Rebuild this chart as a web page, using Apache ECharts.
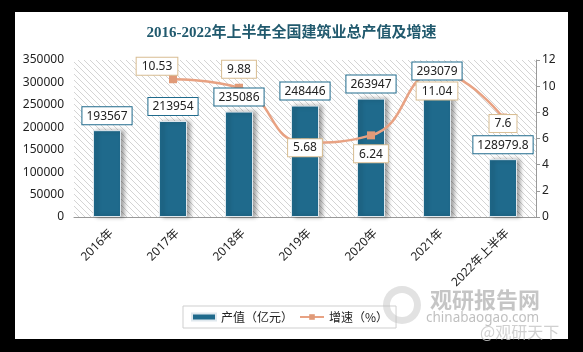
<!DOCTYPE html>
<html>
<head>
<meta charset="utf-8">
<script src="https://cdn.jsdelivr.net/npm/echarts@6/dist/echarts.min.js"></script>
<style>
  html, body { margin: 0; padding: 0; background: #000; }
  #chart { width: 583px; height: 352px; }
</style>
</head>
<body>
<div id="chart"></div>
<script>
const categories = ["2016年", "2017年", "2018年", "2019年", "2020年", "2021年", "2022年上半年"];
const outputValues = [193567, 213954, 235086, 248446, 263947, 293079, 128979.8];
const growthRates = [null, 10.53, 9.88, 5.68, 6.24, 11.04, 7.6];
// 每个增速标签的位置（按图上避让方式摆放）
const growthLabelPos = [null, "inside", "top", "inside", "bottom", "bottom", "inside"];
const growthLabelOffset = [null, [-16, -13], [0, 0], [0, 5], [0, 0], [0, 0], [0, 6]];

const barColor = "#1f6a8c";
const lineColor = "#e8a283";

// 斜线底纹
const makeHatch = () => {
  const c = document.createElement("canvas");
  c.width = 6;
  c.height = 6;
  const ctx = c.getContext("2d");
  ctx.fillStyle = "#ffffff";
  ctx.fillRect(0, 0, 6, 6);
  ctx.strokeStyle = "#d4d4d4";
  ctx.lineWidth = 1;
  ctx.beginPath();
  ctx.moveTo(-1, -1);
  ctx.lineTo(7, 7);
  ctx.moveTo(-1, 5);
  ctx.lineTo(1, 7);
  ctx.moveTo(5, -1);
  ctx.lineTo(7, 1);
  ctx.stroke();
  return c;
};

const chart = echarts.init(document.getElementById("chart"));
const fontNum = "'Noto Sans', 'Noto Sans CJK SC', sans-serif";

const barLabel = {
  show: true,
  position: "top",
  distance: 6,
  fontSize: 12,
  color: "#222",
  backgroundColor: "#fff",
  borderColor: barColor,
  borderWidth: 1,
  padding: [3, 4, 2, 4],
};

const option = {
  backgroundColor: "#000",
  animation: false,
  textStyle: { fontFamily: fontNum },
  graphic: [
    {
      type: "rect",
      shape: { x: 15, y: 12, width: 553, height: 327 },
      style: { fill: "#fff" },
      z: -10,
    },
    {
      type: "ring",
      shape: { cx: 402, cy: 305, r: 19, r0: 12 },
      style: { fill: "rgba(190,190,190,0.45)" },
      z: 10,
    },
    {
      type: "text",
      left: 430,
      top: 289,
      style: { text: "观研报告网", fontSize: 22, fontWeight: "bold", fill: "rgba(150,150,150,0.55)", fontFamily: "'Noto Sans CJK SC'" },
      z: 10,
    },
    {
      type: "text",
      left: 426,
      top: 311,
      style: { text: "chinabaogao.com", fontSize: 13.5, fill: "rgba(150,150,150,0.6)", fontFamily: fontNum },
      z: 10,
    },
    {
      type: "text",
      left: 480,
      top: 324,
      style: { text: "@观研天下", fontSize: 16, fill: "rgba(200,200,200,0.85)", fontFamily: "'Noto Sans CJK SC'" },
      z: 10,
    },
  ],
  title: {
    text: "2016-2022年上半年全国建筑业总产值及增速",
    left: "center",
    top: 21,
    textStyle: {
      fontSize: 15,
      fontWeight: "bold",
      color: "#215a6e",
      fontFamily: "'Liberation Serif', 'Noto Sans CJK SC', serif",
    },
  },
  legend: {
    left: 183,
    top: 306,
    padding: [5, 8],
    borderColor: "#cfcfcf",
    borderWidth: 1,
    itemGap: 6,
    itemWidth: 24,
    itemHeight: 7,
    textStyle: { fontSize: 12, color: "#222", fontFamily: "'Noto Sans CJK SC'" },
    data: [
      { name: "产值（亿元）", icon: "rect" },
      { name: "增速（%）" },
    ],
  },
  grid: {
    left: 74,
    right: 47,
    top: 60,
    bottom: 135,
    show: true,
    borderWidth: 0,
    backgroundColor: { image: makeHatch(), repeat: "repeat" },
  },
  xAxis: {
    type: "category",
    data: categories,
    axisLine: { lineStyle: { color: "#999", width: 1 } },
    axisTick: { show: false },
    axisLabel: {
      rotate: 45,
      interval: 0,
      margin: 10,
      align: "right",
      verticalAlign: "top",
      fontSize: 12,
      color: "#222",
    },
  },
  yAxis: [
    {
      type: "value",
      min: 0,
      max: 350000,
      interval: 50000,
      axisLine: { show: false },
      axisTick: { show: false },
      splitLine: { show: false },
      axisLabel: { fontSize: 12, color: "#222", margin: 10, formatter: (v) => String(v) },
    },
    {
      type: "value",
      min: 0,
      max: 12,
      interval: 2,
      position: "right",
      axisLine: { show: true, lineStyle: { color: "#999" } },
      axisTick: { show: true, length: 4, lineStyle: { color: "#999" } },
      splitLine: { show: false },
      axisLabel: { fontSize: 12, color: "#222", margin: 6 },
    },
  ],
  series: [
    {
      name: "产值（亿元）",
      type: "bar",
      data: outputValues,
      barWidth: 28,
      itemStyle: {
        color: barColor,
        borderColor: "#dfe8ee",
        borderWidth: 1,
        shadowColor: "rgba(0,0,0,0.35)",
        shadowBlur: 4,
        shadowOffsetX: 3,
        shadowOffsetY: 0,
      },
      z: 2,
    },
    {
      name: "增速（%）",
      type: "line",
      yAxisIndex: 1,
      smooth: true,
      connectNulls: false,
      data: growthRates.map((v, i) =>
        v == null
          ? null
          : {
              value: v,
              label: {
                position: growthLabelPos[i],
                offset: growthLabelOffset[i],
              },
            }
      ),
      symbol: "rect",
      symbolSize: 8,
      lineStyle: { color: lineColor, width: 2.5 },
      itemStyle: { color: "#e09a78" },
      label: {
        show: true,
        distance: 6,
        fontSize: 12,
        color: "#222",
        backgroundColor: "#fff",
        borderColor: "#d8bd92",
        borderWidth: 1,
        padding: [3, 5, 2, 5],
      },
      z: 3,
    },
    {
      // 透明柱，只用来把产值标签画在折线之上
      name: "产值标签",
      type: "bar",
      data: outputValues,
      barWidth: 28,
      barGap: "-100%",
      itemStyle: { color: "transparent" },
      label: barLabel,
      silent: true,
      z: 5,
    },
  ],
};

chart.setOption(option);
</script>
</body>
</html>
